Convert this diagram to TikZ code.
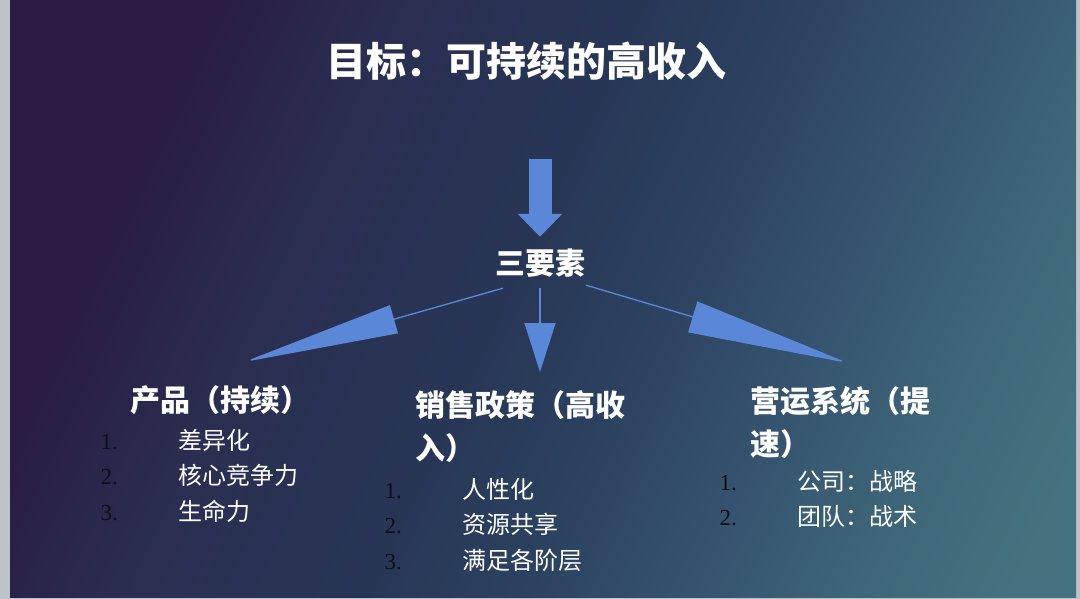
\documentclass[tikz,border=0pt]{standalone}
\usepackage{fontspec}
\newfontfamily\cjk{Noto Sans CJK SC}
\newfontfamily\numfont{Liberation Serif}
\usepackage{tikz}
\usetikzlibrary{positioning,arrows.meta}
\definecolor{slidegray}{HTML}{BEC2C9}
\definecolor{bgA}{HTML}{2A1C44}
\definecolor{bgB}{HTML}{2A2F52}
\definecolor{bgC}{HTML}{283656}
\definecolor{bgD}{HTML}{2C4260}
\definecolor{bgE}{HTML}{365570}
\definecolor{bgF}{HTML}{3F6779}
\definecolor{bgG}{HTML}{44727F}
\definecolor{arrowblue}{HTML}{5B87D9}
\definecolor{numdark}{HTML}{0C0F1A}
\pgfdeclarehorizontalshading{slidebg}{100bp}{color(0bp)=(bgA); color(27bp)=(bgA); color(37bp)=(bgB);
  color(48bp)=(bgC); color(56bp)=(bgD); color(65bp)=(bgE); color(73bp)=(bgF); color(80bp)=(bgG); color(100bp)=(bgG)}

\begin{document}
\begin{tikzpicture}[
  x = 1pt, y = -1pt,
  node distance = 11.5pt and 60pt,
  goalbox/.style = {font=\cjk\bfseries\fontsize{40}{48}\selectfont, text=white, inner sep=0pt, text height=32pt, text depth=8pt},
  keybox/.style  = {font=\cjk\bfseries\fontsize{30}{36}\selectfont, text=white, inner sep=0pt, text height=24pt, text depth=6pt},
  head/.style    = {font=\cjk\bfseries\fontsize{30}{43}\selectfont, text=white, inner sep=0pt, align=left, anchor=north west},
  item/.style    = {font=\cjk\fontsize{24}{29}\selectfont, text=white, inner sep=0pt, text height=19.2pt, text depth=4.8pt},
  num/.style     = {font=\numfont\fontsize{23}{27}\selectfont, text=numdark, inner sep=0pt, text height=19.2pt, text depth=4.8pt},
  blk/.style     = {draw=arrowblue, line width=23pt, -{Triangle[length=23pt, width=43pt, fill=arrowblue]}},
  fan/.style 2 args = {draw=arrowblue, line width=1.3pt, -{Triangle[length=#1, width=#2, fill=arrowblue]}}
]
\useasboundingbox (0,0) rectangle (1080,599);
\fill[slidegray] (0,0) rectangle (1080,599);
\shade[shading=slidebg, shading angle=-25] (10,0) rectangle (1076,597);

\node[goalbox, anchor=base] (goal) at (526,77) {目标：可持续的高收入};
\node[keybox, anchor=base] (three) at (540,274) {三要素};

\node[head] (prod) at (130,385) {产品（持续）};
\node[head] (sale) at (415,390) {销售政策（高收\\入）};
\node[head] (ops)  at (750,386) {营运系统（提\\速）};

\node[item, anchor=base west] (p1) at (178,449) {差异化};
\node[item, below=of p1.south west, anchor=north west] (p2) {核心竞争力};
\node[item, below=of p2.south west, anchor=north west] (p3) {生命力};
\node[num, left=of p1] (pn1) {1.};
\node[num, left=of p2] (pn2) {2.};
\node[num, left=of p3] (pn3) {3.};

\node[item, anchor=base west] (s1) at (462,498) {人性化};
\node[item, below=of s1.south west, anchor=north west] (s2) {资源共享};
\node[item, below=of s2.south west, anchor=north west] (s3) {满足各阶层};
\node[num, left=of s1] (sn1) {1.};
\node[num, left=of s2] (sn2) {2.};
\node[num, left=of s3] (sn3) {3.};

\node[item, anchor=base west] (o1) at (797,490) {公司：战略};
\node[item, below=of o1.south west, anchor=north west] (o2) {团队：战术};
\node[num, left=of o1] (on1) {1.};
\node[num, left=of o2] (on2) {2.};

\coordinate (tipP) at (244,362);
\coordinate (tipS) at (540,372);
\coordinate (tipO) at (848,363);

\draw[blk, shorten <=74pt, shorten >=13pt] (three.north |- goal.south) -- (three.north);
\draw[fan={156pt}{29pt}] ([shift={(8,8)}]three.south west) -- (tipP);
\draw[fan={49pt}{31pt}]  ([shift={(0,8)}]three.south) -- (tipS);
\draw[fan={162pt}{32pt}] ([shift={(1,5)}]three.south east) -- (tipO);
\end{tikzpicture}
\end{document}
